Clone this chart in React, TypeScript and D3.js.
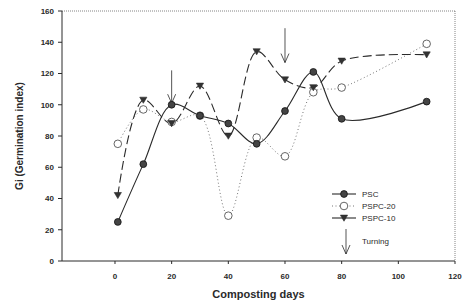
import React from "react";
import * as d3 from "d3";

// composting days for each sampling
const days = [1, 10, 20, 30, 40, 50, 60, 70, 80, 110];
const psc = [25, 62, 100, 93, 88, 75, 96, 121, 91, 102];
const pspc20 = [75, 97, 89, 93, 29, 79, 67, 108, 111, 139];
const pspc10 = [42, 103, 88, 112, 80, 134, 116, 111, 128, 132];
const turningDays = [20, 60];
const xTicks = [0, 20, 40, 60, 80, 100, 120];
const yTicks = [0, 20, 40, 60, 80, 100, 120, 140, 160];

const W = 464;
const H = 304;
const margin = { top: 11, right: 9, bottom: 43, left: 62 };

function triangle(cx: number, cy: number, s: number) {
  return `M${cx - s},${cy - s * 0.8}L${cx + s},${cy - s * 0.8}L${cx},${cy + s * 0.9}Z`;
}

export default function App() {
  const x = d3.scaleLinear().domain([-18.7, 120]).range([margin.left, W - margin.right]);
  const y = d3.scaleLinear().domain([0, 160]).range([H - margin.bottom, margin.top]);
  const line = d3
    .line<number>()
    .x((d, i) => x(days[i]))
    .y((d) => y(d))
    .curve(d3.curveCatmullRom.alpha(0.5));

  const ink = "#2a2a2a";
  const font = "Liberation Sans, Arial, sans-serif";
  const x0 = x.range()[0];
  const x1 = x.range()[1];
  const y0 = y.range()[0];
  const y1 = y.range()[1];

  return (
    <svg width={W} height={H} style={{ position: "absolute", left: 0, top: 0, background: "#fff" }}>
      {/* frame */}
      <line x1={x0} x2={x1} y1={y1} y2={y1} stroke="#666" strokeWidth={0.8} strokeDasharray="1,1" />
      <line x1={x1} x2={x1} y1={y1} y2={y0} stroke="#666" strokeWidth={0.8} strokeDasharray="1,1" />
      <line x1={x0} x2={x0} y1={y1} y2={y0} stroke={ink} strokeWidth={1} />
      <line x1={x0} x2={x1} y1={y0} y2={y0} stroke={ink} strokeWidth={1} />

      {/* y ticks */}
      {yTicks.map((t) => (
        <g key={"y" + t}>
          <line x1={x0 - 4} x2={x0} y1={y(t)} y2={y(t)} stroke={ink} />
          <text x={x0 - 8} y={y(t)} dy="0.35em" textAnchor="end" fontSize={8} fontWeight="bold" fill={ink} fontFamily={font}>
            {t}
          </text>
        </g>
      ))}
      {/* x ticks */}
      {xTicks.map((t) => (
        <g key={"x" + t}>
          <line x1={x(t)} x2={x(t)} y1={y0} y2={y0 + 3} stroke={ink} />
          <text x={x(t)} y={y0 + 18} textAnchor="middle" fontSize={8} fontWeight="bold" fill={ink} fontFamily={font}>
            {t}
          </text>
        </g>
      ))}

      <text x={(x0 + x1) / 2} y={H - 6} textAnchor="middle" fontSize={11} fontWeight="bold" fill={ink} fontFamily={font}>
        Composting days
      </text>
      <text
        transform={`translate(23,${(y0 + y1) / 2}) rotate(-90)`}
        textAnchor="middle"
        fontSize={10}
        fontWeight="bold"
        fill={ink}
        fontFamily={font}
      >
        Gi (Germination index)
      </text>

      {/* series lines */}
      <path d={line(pspc20) || ""} fill="none" stroke="#777" strokeWidth={1} strokeDasharray="1,2.5" />
      <path d={line(pspc10) || ""} fill="none" stroke={ink} strokeWidth={1.1} strokeDasharray="9,4" />
      <path d={line(psc) || ""} fill="none" stroke={ink} strokeWidth={1.1} />

      {/* turning arrows */}
      {turningDays.map((t, i) => {
        const top = i === 0 ? 122 : 149;
        const bot = i === 0 ? 101 : 127;
        return (
          <g key={"a" + t} stroke={ink} strokeWidth={0.8} fill="none">
            <line x1={x(t)} x2={x(t)} y1={y(top)} y2={y(bot)} />
            <path d={`M${x(t) - 4},${y(bot) - 9}L${x(t)},${y(bot)}L${x(t) + 4},${y(bot) - 9}`} />
          </g>
        );
      })}

      {/* markers */}
      {pspc20.map((v, i) => (
        <circle key={"o" + i} cx={x(days[i])} cy={y(v)} r={3.8} fill="#fff" stroke="#555" strokeWidth={0.9} />
      ))}
      {pspc10.map((v, i) => (
        <path key={"t" + i} d={triangle(x(days[i]), y(v), 3.6)} fill="#333" stroke={ink} strokeWidth={0.6} />
      ))}
      {psc.map((v, i) => (
        <circle key={"c" + i} cx={x(days[i])} cy={y(v)} r={3.4} fill="#444" stroke="#111" strokeWidth={0.8} />
      ))}

      {/* legend */}
      <g fontFamily={font} fontSize={8} fill={ink}>
        <line x1={332} x2={356} y1={194} y2={194} stroke={ink} strokeWidth={1.1} />
        <circle cx={344} cy={194} r={3.4} fill="#444" stroke="#111" strokeWidth={0.8} />
        <text x={362} y={194} dy="0.35em">PSC</text>

        <line x1={332} x2={356} y1={206} y2={206} stroke="#777" strokeWidth={1} strokeDasharray="1,2.5" />
        <circle cx={344} cy={206} r={3.8} fill="#fff" stroke="#555" strokeWidth={0.9} />
        <text x={362} y={206} dy="0.35em">PSPC-20</text>

        <line x1={332} x2={356} y1={218} y2={218} stroke={ink} strokeWidth={1.1} />
        <path d={triangle(344, 218, 3.6)} fill="#333" stroke={ink} strokeWidth={0.6} />
        <text x={362} y={218} dy="0.35em">PSPC-10</text>

        <line x1={346} x2={346} y1={229} y2={254} stroke={ink} strokeWidth={0.8} />
        <path d="M342,245L346,254L350,245" fill="none" stroke={ink} strokeWidth={0.8} />
        <text x={362} y={241} dy="0.35em">Turning</text>
      </g>
    </svg>
  );
}
